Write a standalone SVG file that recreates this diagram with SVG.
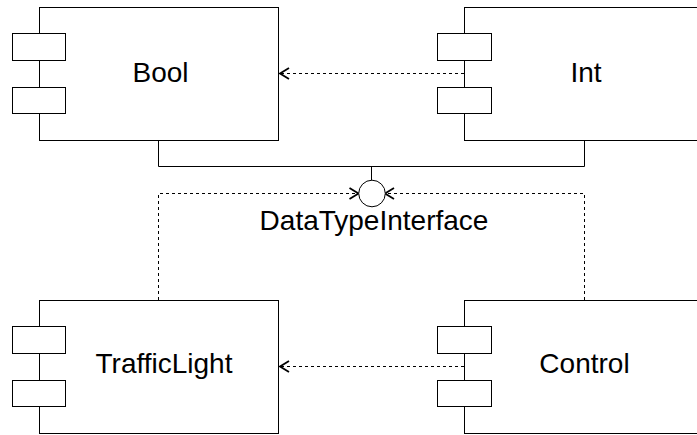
<svg xmlns="http://www.w3.org/2000/svg" width="697" height="435" viewBox="0 0 697 435">
<defs>
<style>
.box{fill:#fff;stroke:#000;stroke-width:1}
.lbl{font-family:"Liberation Sans",Arial,sans-serif;font-size:28px;fill:#000;text-anchor:middle}
.solid{fill:none;stroke:#000;stroke-width:1}
.dash{fill:none;stroke:#000;stroke-width:1;stroke-dasharray:3 3}
</style>
<marker id="open" markerUnits="userSpaceOnUse" markerWidth="14" markerHeight="14" viewBox="-12 -7 14 14" refX="0" refY="0" orient="auto">
<path d="M-9,-5.5 L0,0 L-9,5.5" fill="none" stroke="#000" stroke-width="1.8"/>
</marker>
</defs>
<rect width="697" height="435" fill="#fff"/>
<g id="connectors">
<path class="solid" d="M158.5,140.5 V166.5 H584.5 V140.5"/>
<path class="solid" d="M371.5,166.5 V180"/>
<path class="dash" d="M464,73.5 H280" marker-end="url(#open)"/>
<path class="dash" d="M464,366.5 H280" marker-end="url(#open)"/>
<path class="dash" d="M158.5,300 V193.5 H358.5" marker-end="url(#open)"/>
<path class="dash" d="M584.5,300 V193.5 H385" marker-end="url(#open)"/>
</g>
<g id="iface">
<circle cx="372" cy="193.5" r="13.3" fill="#fff" stroke="#000" stroke-width="1"/>
<text class="lbl" x="374" y="229.5">DataTypeInterface</text>
</g>
<g id="bool">
<rect class="box" x="39.5" y="7.5" width="239" height="133"/>
<rect class="box" x="12.5" y="33.5" width="53" height="27"/>
<rect class="box" x="12.5" y="87.5" width="53" height="26"/>
<text class="lbl" x="160.5" y="82">Bool</text>
</g>
<g id="int">
<rect class="box" x="464.5" y="7.5" width="239" height="133"/>
<rect class="box" x="437.5" y="33.5" width="54" height="27"/>
<rect class="box" x="437.5" y="87.5" width="54" height="26"/>
<text class="lbl" x="586" y="82">Int</text>
</g>
<g id="trafficlight">
<rect class="box" x="39.5" y="300.5" width="239" height="133"/>
<rect class="box" x="12.5" y="326.5" width="53" height="27"/>
<rect class="box" x="12.5" y="380.5" width="53" height="26"/>
<text class="lbl" x="164" y="373">TrafficLight</text>
</g>
<g id="control">
<rect class="box" x="464.5" y="300.5" width="239" height="133"/>
<rect class="box" x="437.5" y="326.5" width="54" height="27"/>
<rect class="box" x="437.5" y="380.5" width="54" height="26"/>
<text class="lbl" x="584.5" y="373">Control</text>
</g>
</svg>
